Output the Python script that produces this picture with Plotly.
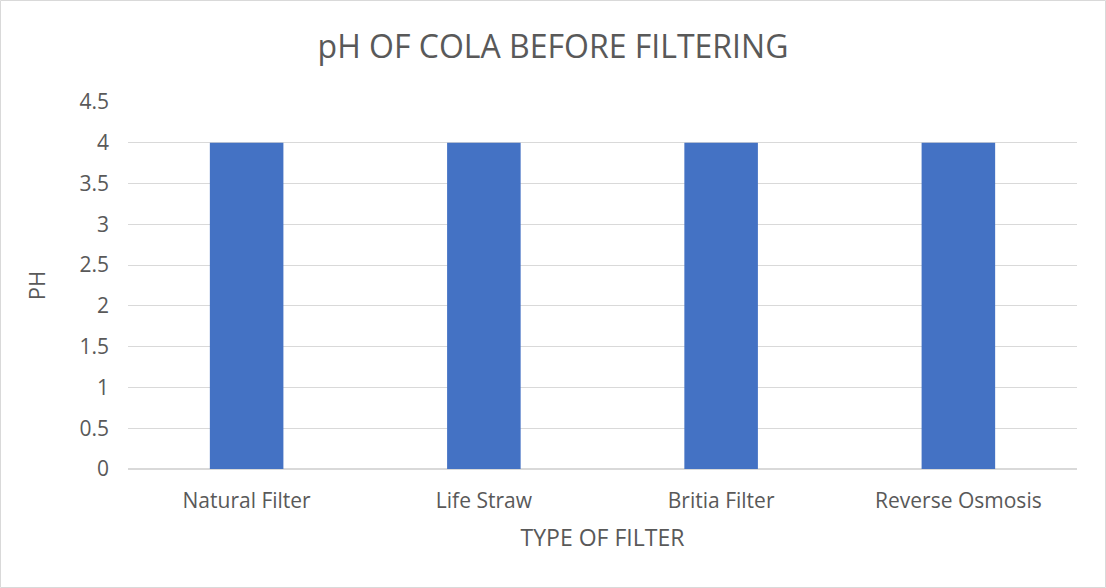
import plotly.graph_objects as go

categories = ["Natural Filter", "Life Straw", "Britia Filter", "Reverse Osmosis"]
ph_values = [4, 4, 4, 4]
y_ticks = [0, 0.5, 1, 1.5, 2, 2.5, 3, 3.5, 4, 4.5]
y_tick_labels = ["0", "0.5", "1", "1.5", "2", "2.5", "3", "3.5", "4", "4.5"]

W, H = 1106, 588
L, R, T, B = 128, 29, 102, 119
pw, ph = W - L - R, H - T - B

fig = go.Figure(go.Bar(x=categories, y=ph_values, marker_color="#4472C4", marker_line_width=0))

font = "Open Sans, Liberation Sans, sans-serif"
fig.update_layout(
    width=W, height=H,
    margin=dict(l=L, r=R, t=T, b=B),
    paper_bgcolor="white", plot_bgcolor="white",
    bargap=0.69,
    showlegend=False,
    font=dict(family=font, color="#595959", size=21),
    title=dict(text="pH OF COLA BEFORE FILTERING", x=0.5, xanchor="center",
               y=1 - 47 / H, yanchor="middle",
               font=dict(size=32, color="#595959", family=font)),
    xaxis=dict(title=dict(text="TYPE OF FILTER", font=dict(size=23), standoff=16),
               showline=True, linecolor="#d9d9d9", ticks="", tickfont=dict(size=21),
               ticklabelstandoff=13),
    yaxis=dict(title=dict(text="PH", font=dict(size=22), standoff=27),
               range=[0, 4.5], tickvals=y_ticks, ticktext=y_tick_labels,
               gridcolor="#d9d9d9", zeroline=True, zerolinecolor="#d9d9d9",
               tickfont=dict(size=21), ticks="", ticklabelstandoff=18),
)

fig.add_shape(type="rect", xref="paper", yref="paper",
              x0=(0.5 - L) / pw, x1=(W - 0.5 - L) / pw,
              y0=(0.5 - B) / ph, y1=(H - B - 0.5) / ph,
              line=dict(color="#d9d9d9", width=1))

fig.write_html("out.html", config={"displayModeBar": False},
               post_script="document.body.style.margin='0';document.body.style.overflow='hidden';")
